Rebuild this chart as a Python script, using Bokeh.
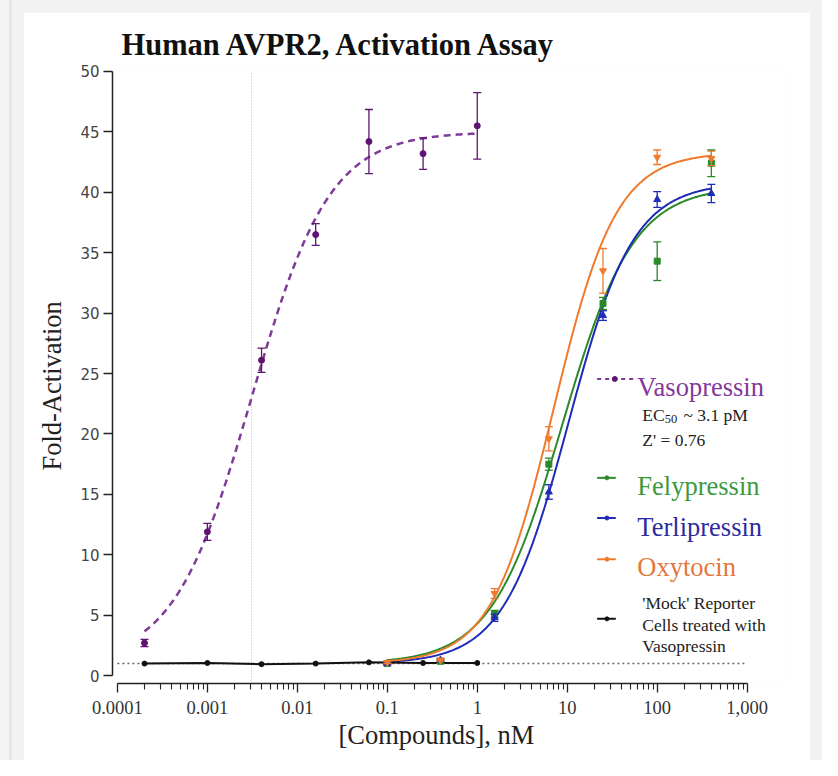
import numpy as np
from bokeh.plotting import figure
from bokeh.models import (Range1d, FixedTicker, CustomJSTickFormatter, Label, Title)
from bokeh.layouts import column
from bokeh.embed import file_html
from bokeh.resources import INLINE

# ---------------- data ----------------
vaso_x = [0.0002, 0.001, 0.004, 0.016, 0.0625, 0.25, 1.0]
vaso_y = [2.7, 11.9, 26.1, 36.5, 44.2, 43.2, 45.5]
vaso_err = [0.3, 0.7, 1.0, 0.9, 2.65, 1.3, 2.75]

mock_x = [0.0002, 0.001, 0.004, 0.016, 0.0625, 0.25, 1.0]
mock_y = [1.0, 1.05, 0.95, 1.0, 1.1, 1.05, 1.05]

ago_x = [0.1, 0.39, 1.56, 6.25, 25.0, 100.0, 400.0]
fely_y = [1.0, 1.2, 5.1, 17.5, 30.8, 34.3, 42.4]
fely_err = [0.1, 0.2, 0.3, 0.5, 0.5, 1.6, 1.1]
terli_y = [1.0, 1.3, 4.8, 15.2, 29.8, 39.4, 39.9]
terli_err = [0.1, 0.1, 0.3, 0.6, 0.4, 0.65, 0.75]
oxy_y = [1.1, 1.3, 6.8, 19.6, 33.5, 42.9, 42.8]
oxy_err = [0.1, 0.1, 0.4, 1.0, 1.85, 0.6, 0.6]

# 4-parameter logistic fit parameters: bottom, top, EC50 (nM), Hill slope
vaso_fit = [1.0, 45.0, 0.0031, 1.0]
fely_fit = [1.0, 40.5, 8.8, 1.1]
terli_fit = [1.0, 40.8, 10.3, 1.2]
oxy_fit = [1.0, 43.3, 7.1, 1.25]
vaso_fit_range = [0.0002, 1.0]
ago_fit_range = [0.1, 400.0]

ec50_line = 0.0031
baseline = 1.0

x_ticks = [1e-4, 1e-3, 1e-2, 1e-1, 1.0, 10.0, 100.0, 1000.0]
x_tick_labels = ["0.0001", "0.001", "0.01", "0.1", "1", "10", "100", "1,000"]
y_ticks = [0, 5, 10, 15, 20, 25, 30, 35, 40, 45, 50]

# ---------------- helpers ----------------
SERIF = "Liberation Serif"


def X(px):
    return 10 ** (-4 + (px - 119) / 91.7)


def Y(py):
    return (689 - py) / 12.34


def fourpl(params, rng):
    b, t, ec, h = params
    xs = np.logspace(np.log10(rng[0]), np.log10(rng[1]), 300)
    return xs, b + (t - b) / (1 + (ec / xs) ** h)


C_VASO_PT = "#5e1470"
C_VASO_LN = "#7d3c98"
C_VASO_TX = "#82399c"
C_FELY = "#2a8a2a"
C_FELY_TX = "#3c9a3c"
C_TERLI = "#1e2bb8"
C_TERLI_TX = "#2c2c9c"
C_OXY = "#f07a2c"
C_OXY_TX = "#e2783a"

p = figure(width=787, height=748, x_axis_type="log",
           x_range=Range1d(X(114), X(800)), y_range=Range1d(Y(697), Y(70)),
           output_backend="svg", toolbar_location=None,
           min_border_left=89, min_border_right=25, min_border_top=57,
           min_border_bottom=77)
p.outline_line_color = None
p.grid.visible = False
p.background_fill_color = "white"
p.border_fill_color = "white"

p.title.text = "Human AVPR2, Activation Assay"
p.title.text_font = SERIF
p.title.text_font_style = "bold"
p.title.text_font_size = "30.5px"
p.title.text_color = "#111111"
p.title.align = "left"
p.title.offset = 9
p.title.standoff = 15

# axes
xa = p.xaxis[0]
xa.bounds = (x_ticks[0], x_ticks[-1])
minor = [m * 10.0 ** e for e in range(-4, 3) for m in range(2, 10)]
xa.ticker = FixedTicker(ticks=x_ticks, minor_ticks=minor)
xa.formatter = CustomJSTickFormatter(args=dict(tv=x_ticks, tl=x_tick_labels), code="""
let best = 0; let bd = Infinity;
for (let i = 0; i < tv.length; i++) {
  const d = Math.abs(Math.log10(tick) - Math.log10(tv[i]));
  if (d < bd) { bd = d; best = i; }
}
return tl[best];
""")
xa.axis_line_width = 1.5
xa.axis_line_color = "#222222"
xa.major_tick_line_color = "#222222"
xa.major_tick_line_width = 1.3
xa.minor_tick_line_color = "#222222"
xa.minor_tick_line_width = 1.1
xa.major_tick_in = 0
xa.major_tick_out = 9
xa.minor_tick_in = 0
xa.minor_tick_out = 6
xa.major_label_text_font = SERIF
xa.major_label_text_font_size = "18.5px"
xa.major_label_text_color = "#333333"
xa.major_label_standoff = 8

ya = p.yaxis[0]
ya.bounds = (0, 50)
ya.ticker = FixedTicker(ticks=y_ticks, minor_ticks=[])
ya.axis_line_width = 1.5
ya.axis_line_color = "#222222"
ya.major_tick_line_color = "#222222"
ya.major_tick_line_width = 1.3
ya.major_tick_in = 0
ya.major_tick_out = 9
ya.minor_tick_out = 0
ya.major_label_text_font = "DejaVu Sans"
ya.major_label_text_font_size = "15px"
ya.major_label_text_color = "#444444"
ya.major_label_standoff = 4

# axis titles as side titles (so they can be placed like the reference)
p.add_layout(Title(text="Fold-Activation", align="left", offset=213, standoff=21,
                   text_font=SERIF, text_font_size="26.5px", text_font_style="normal",
                   text_color="#222222"), "left")
p.add_layout(Title(text="[Compounds], nM", align="left", offset=226, standoff=3,
                   text_font=SERIF, text_font_size="26.5px", text_font_style="normal",
                   text_color="#222222"), "below")

# reference lines
p.segment(x0=[ec50_line], y0=[Y(697)], x1=[ec50_line], y1=[50],
          line_color="#b5b5b5", line_width=1, line_dash="1 2")
p.segment(x0=[x_ticks[0]], y0=[baseline], x1=[x_ticks[-1]], y1=[baseline],
          line_color="#666666", line_width=1.5, line_dash="2 3")

# fitted curves
xs, ys = fourpl(fely_fit, ago_fit_range)
p.line(xs, ys, line_color=C_FELY, line_width=2)
xs, ys = fourpl(terli_fit, ago_fit_range)
p.line(xs, ys, line_color=C_TERLI, line_width=2)
xs, ys = fourpl(oxy_fit, ago_fit_range)
p.line(xs, ys, line_color=C_OXY, line_width=2)
xs, ys = fourpl(vaso_fit, vaso_fit_range)
p.line(xs, ys, line_color=C_VASO_LN, line_width=2.5, line_dash="7 5")

# mock
p.line(mock_x, mock_y, line_color="#111111", line_width=2)
p.scatter(mock_x, mock_y, marker="circle", size=5, color="#111111")


def errbars(x, y, e, color, marker, size):
    y = np.array(y)
    e = np.array(e)
    p.segment(x0=x, y0=y - e, x1=x, y1=y + e, line_color=color, line_width=1.3)
    p.scatter(x, y + e, marker="dash", size=8, line_color=color, line_width=1.3)
    p.scatter(x, y - e, marker="dash", size=8, line_color=color, line_width=1.3)
    p.scatter(x, y, marker=marker, size=size, color=color)


errbars(ago_x, fely_y, fely_err, C_FELY, "square", 6)
errbars(ago_x, terli_y, terli_err, C_TERLI, "triangle", 7)
errbars(ago_x, oxy_y, oxy_err, C_OXY, "inverted_triangle", 7)
errbars(vaso_x, vaso_y, vaso_err, C_VASO_PT, "circle", 6)

# legend (drawn by hand like the reference)
p.segment(x0=[X(608)], y0=[Y(386)], x1=[X(645)], y1=[Y(386)], line_color=C_VASO_LN,
          line_width=2, line_dash="4 4")
p.scatter([X(626)], [Y(386)], marker="circle", size=5, color=C_VASO_PT)
for py, col in [(487, C_FELY), (528, C_TERLI), (570, C_OXY), (631, "#111111")]:
    p.segment(x0=[X(608)], y0=[Y(py)], x1=[X(627)], y1=[Y(py)], line_color=col, line_width=2)
    p.scatter([X(618)], [Y(py)], marker="circle", size=4, color=col)


def lab(px, py, text, size, color):
    p.add_layout(Label(x=X(px), y=Y(py), text=text, text_font=SERIF, text_font_size=size,
                       text_color=color, text_align="left", text_baseline="alphabetic"))


lab(649, 394, "Vasopressin", "26.5px", C_VASO_TX)
lab(654, 423, "EC", "17.5px", "#222222")
lab(677, 427, "50", "12.5px", "#222222")
lab(696, 423, "~ 3.1 pM", "17.5px", "#222222")
lab(654, 448, "Z' = 0.76", "17.5px", "#222222")
lab(649, 495, "Felypressin", "26.5px", C_FELY_TX)
lab(649, 537, "Terlipressin", "26.5px", C_TERLI_TX)
lab(649, 578, "Oxytocin", "26.5px", C_OXY_TX)
lab(654, 615, "'Mock' Reporter", "17.5px", "#222222")
lab(654, 637, "Cells treated with", "17.5px", "#222222")
lab(654, 659, "Vasopressin", "17.5px", "#222222")

page = column(p, styles={
    "background": "linear-gradient(to right, #f4f4f4 0px, #f4f4f4 9px, #e6e6e6 9px, "
                  "#e6e6e6 12px, #f2f2f2 12px, #f2f2f2 100%)",
    "padding": "12px 12px 0px 23px"})

open("out.html", "w").write(file_html(page, INLINE))
